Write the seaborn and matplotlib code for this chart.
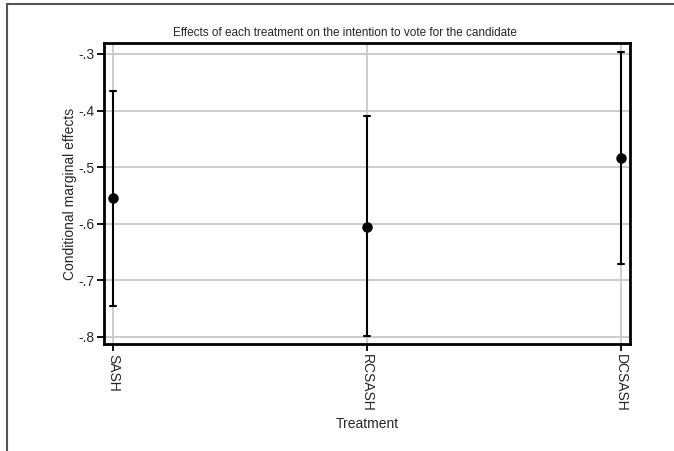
import pandas as pd
import matplotlib.pyplot as plt
import seaborn as sns
from matplotlib.lines import Line2D
from matplotlib.ticker import FuncFormatter

treatments = ['SASH', 'RCSASH', 'DCSASH']
effect = [-0.555, -0.605, -0.484]
ci_low = [-0.745, -0.798, -0.671]
ci_high = [-0.366, -0.409, -0.296]
yticks = [-0.3, -0.4, -0.5, -0.6, -0.7, -0.8]

sns.set_style('white')
plt.rcParams['font.family'] = ['Liberation Sans', 'DejaVu Sans']

# long form: median of (low, estimate, high) gives the point, min-max gives the CI
rows = []
for t, lo, e, hi in zip(treatments, ci_low, effect, ci_high):
    for v in (lo, e, hi):
        rows.append({'Treatment': t, 'value': v})
df = pd.DataFrame(rows)

fig = plt.figure(figsize=(6.74, 4.51), dpi=100)
ax = fig.add_axes([104/674, 1 - 344/451, (630-104)/674, (344-43)/451])

sns.pointplot(data=df, x='Treatment', y='value', order=treatments,
              estimator='median', errorbar=('pi', 100), color='black',
              linestyle='none', markersize=5.5, capsize=0.024,
              err_kws={'linewidth': 1.5}, ax=ax)

ax.set_xlim(-0.035, 2.035)
ax.set_ylim(-0.8124, -0.2806)
ax.set_yticks(yticks)
ax.yaxis.set_major_formatter(FuncFormatter(lambda v, p: ('%.1f' % v).replace('0.', '.')))
ax.grid(True, color='#c8c8c8', linewidth=1.3)
ax.set_axisbelow(True)
for s in ax.spines.values():
    s.set_visible(True)
    s.set_color('black')
    s.set_linewidth(2)
ax.tick_params(axis='both', direction='out', length=5, width=1.3, color='black',
               labelsize=10, pad=2, bottom=True, left=True)
plt.setp(ax.get_xticklabels(), rotation=270, va='top', ha='center')
ax.set_xlabel('Treatment', fontsize=10, labelpad=4)
ax.set_ylabel('Conditional marginal effects', fontsize=10, labelpad=1)

fig.text(345/674, 1 - 33/451, 'Effects of each treatment on the intention to vote for the candidate',
         ha='center', va='center', fontsize=8.5)

# outer frame (left and top edges visible)
fig.add_artist(Line2D([7/674, 7/674], [0, 1 - 4/451], color='#555555', linewidth=1.5))
fig.add_artist(Line2D([7/674, 1], [1 - 4/451, 1 - 4/451], color='#555555', linewidth=1.5))

fig.savefig('out.png', dpi=100)
